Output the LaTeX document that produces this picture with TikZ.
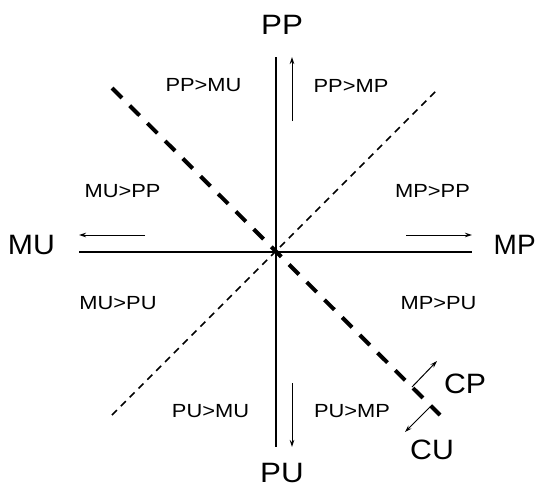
\documentclass[tikz,border=0pt]{standalone}
\usepackage{fontspec}
\setmainfont{Liberation Sans}
\usetikzlibrary{arrows.meta}
\begin{document}
\begin{tikzpicture}[x=1pt,y=-1pt,
  axis/.style={line width=2pt},
  thin arrow/.style={line width=1pt,-{Stealth[length=7pt,width=4.5pt]}},
  thickdash/.style={line width=4pt,dash pattern=on 14pt off 11pt},
  thindash/.style={line width=1.5pt,dash pattern=on 7pt off 5.5pt},
  big/.style={inner sep=0pt,font=\fontsize{28}{30}\selectfont},
  small/.style={inner sep=0pt,font=\fontsize{19}{21}\selectfont}]
\useasboundingbox (0,0) rectangle (538,488);
% axes
\coordinate (vt) at (275.5,57);
\coordinate (vb) at (275.5,447);
\coordinate (hl) at (79,251.5);
\coordinate (hr) at (472,251.5);
\draw[axis] (vt) -- (vb);
\draw[axis] (hl) -- (hr);
% diagonals
\coordinate (d1a) at (112,88);
\coordinate (d1b) at (440,415);
\coordinate (d2a) at (112,415);
\coordinate (d2b) at (437,90);
\draw[thickdash] (d1a) -- (d1b);
\draw[thindash] (d2a) -- (d2b);
% arrows
\coordinate (ua) at (292,121);
\coordinate (ub) at (292,57);
\coordinate (da) at (292,383);
\coordinate (db) at (292,447);
\coordinate (la) at (145,235);
\coordinate (lb) at (79,235);
\coordinate (ra) at (406,235);
\coordinate (rb) at (472,235);
\coordinate (cpa) at (412,387);
\coordinate (cpb) at (437,361);
\coordinate (cua) at (430,407);
\coordinate (cub) at (405,432);
\draw[thin arrow] (ua) -- (ub);
\draw[thin arrow] (da) -- (db);
\draw[thin arrow] (la) -- (lb);
\draw[thin arrow] (ra) -- (rb);
\draw[thin arrow] (cpa) -- (cpb);
\draw[thin arrow] (cua) -- (cub);
% big labels
\node[big] (PP) at (282,25) {\scalebox{1.12}[1]{PP}};
\node[big] (PU) at (282,472.5) {\scalebox{1.12}[1]{PU}};
\node[big] (MU) at (31.5,245) {\scalebox{1.08}[1]{MU}};
\node[big,anchor=west] (MP) at (493.5,244.5) {MP};
\node[big] (CP) at (465,384) {\scalebox{1.08}[1]{CP}};
\node[big] (CU) at (432,450) {\scalebox{1.08}[1]{CU}};
% small labels
\node[small] (ppmu) at (203.5,85.5) {\scalebox{1.15}[1]{PP>MU}};
\node[small] (ppmp) at (351,85.5) {\scalebox{1.15}[1]{PP>MP}};
\node[small] (mupp) at (122.5,191) {\scalebox{1.15}[1]{MU>PP}};
\node[small] (mpu) at (118,303.5) {\scalebox{1.15}[1]{MU>PU}};
\node[small] (mppp) at (432.5,190.5) {\scalebox{1.15}[1]{MP>PP}};
\node[small] (mppu) at (438.5,303.5) {\scalebox{1.15}[1]{MP>PU}};
\node[small] (pumu) at (210.5,411) {\scalebox{1.15}[1]{PU>MU}};
\node[small] (pump) at (352,411) {\scalebox{1.15}[1]{PU>MP}};
\end{tikzpicture}
\end{document}
